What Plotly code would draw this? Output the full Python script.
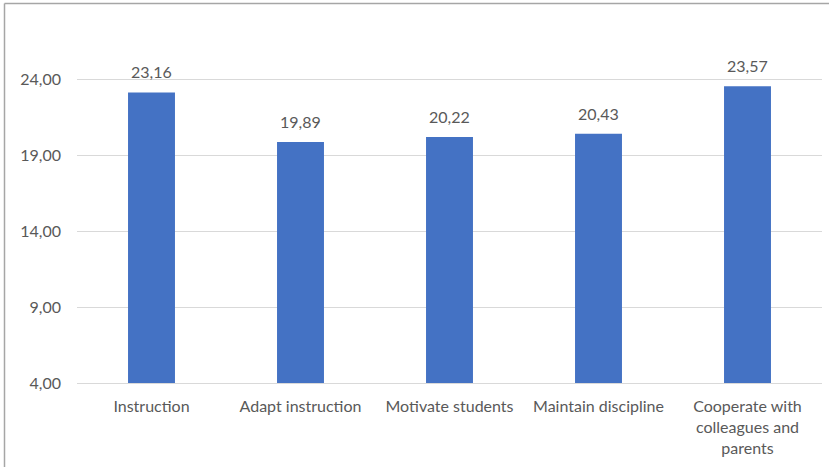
import plotly.graph_objects as go

# Self-efficacy scores per teaching domain
categories = [
    "Instruction",
    "Adapt instruction",
    "Motivate students",
    "Maintain discipline",
    "Cooperate with<br>colleagues and<br>parents",
]
scores = [23.16, 19.89, 20.22, 20.43, 23.57]
y_ticks = [4, 9, 14, 19, 24]

BAR_COLOR = "#4472C4"
TEXT_COLOR = "#595959"
FONT = "Lato, Open Sans, sans-serif"
FSIZE = 16

W, H = 829, 467
left, right, top, bottom = 77, 7, 19, 84

fig = go.Figure()
fig.add_trace(go.Bar(
    x=categories,
    y=scores,
    marker=dict(color=BAR_COLOR, line=dict(width=0)),
    width=0.315,
    hoverinfo="skip",
))

# value labels above each bar
for c, v in zip(categories, scores):
    fig.add_annotation(
        x=c, y=v, text=f"{v:.2f}".replace(".", ","),
        showarrow=False, yanchor="bottom", yshift=9,
        font=dict(family=FONT, size=FSIZE, color=TEXT_COLOR),
    )

# outer chart border (top and left edges)
pw = W - left - right
ph = H - top - bottom
bx = (4.5 - left) / pw
by = (H - bottom - 3.5) / ph
for x0, y0, x1, y1 in [(bx, by, (W + 5 - left) / pw, by),
                       (bx, by, bx, (H - bottom - (H + 5)) / ph)]:
    fig.add_shape(
        type="line", xref="paper", yref="paper",
        x0=x0, y0=y0, x1=x1, y1=y1,
        line=dict(color="#A6A6A6", width=1.5),
    )

fig.update_layout(
    width=W, height=H,
    margin=dict(l=left, r=right, t=top, b=bottom, pad=0),
    paper_bgcolor="white", plot_bgcolor="white",
    separators=",.",
    showlegend=False,
    font=dict(family=FONT, size=FSIZE, color=TEXT_COLOR),
    xaxis=dict(
        showgrid=False, showline=True, linecolor="#D9D9D9", linewidth=1,
        ticks="", ticklabelstandoff=9,
        tickfont=dict(family=FONT, size=FSIZE, color=TEXT_COLOR),
    ),
    yaxis=dict(
        range=[4, 28], tickvals=y_ticks, tickformat=".2f",
        showgrid=True, gridcolor="#D9D9D9", gridwidth=1,
        zeroline=False, showline=False, ticks="",
        ticklabelstandoff=15,
        tickfont=dict(family=FONT, size=FSIZE, color=TEXT_COLOR),
    ),
)

fig.write_html("out.html")
